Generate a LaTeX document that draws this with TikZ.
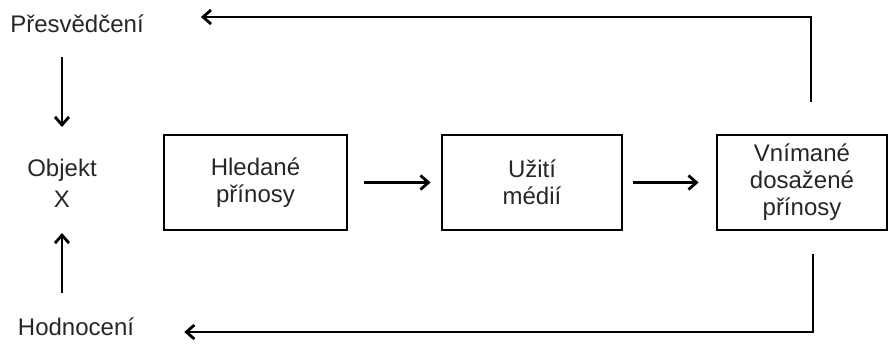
\documentclass[tikz,border=0pt]{standalone}
\usepackage{fontspec}
\setmainfont{Liberation Sans}
\usetikzlibrary{arrows.meta}
\begin{document}
\begin{tikzpicture}[x=1pt,y=-1pt,
  lbl/.style={inner sep=0pt, text=black!85, font=\fontsize{24}{29}\selectfont, align=center},
  boxn/.style={draw, line width=2.8pt, minimum height=95pt, inner sep=0pt, text=black!85, font=\fontsize{24}{27}\selectfont, align=center},
  arr/.style={line width=2.8pt, -{Straight Barb[length=8pt,width=14pt,line width=2.8pt]}}]
\useasboundingbox (0,0) rectangle (889,343);
\node[lbl] (pres) at (77,24) {Přesvědčení};
\node[lbl, font=\fontsize{24}{31}\selectfont] (obj) at (62,183) {Objekt\\X};
\node[lbl] (hod) at (76,327) {Hodnocení};
\node[boxn, minimum width=183pt] (b1) at (255.5,182.5) {Hledané\\přínosy};
\node[boxn, minimum width=180pt] (b2) at (532,182.5) {Užití\\médií};
\node[boxn, minimum width=170pt] (b3) at (802,182.5) {Vnímané\\dosažené\\přínosy};
\draw[arr, shorten <=33pt, shorten >=56pt] (pres.center -| obj.center) -- (obj.center);
\draw[arr, shorten <=34pt, shorten >=50pt] (hod.center -| obj.center) -- (obj.center);
\draw[arr, shorten <=16pt, shorten >=10pt] (b1.east) -- (b2.west);
\draw[arr, shorten <=10pt, shorten >=17pt] (b2.east) -- (b3.west);
\draw[arr, shorten <=32pt, shorten >=57pt] ([xshift=9pt]b3.north) |- ([yshift=7pt]pres.east);
\draw[arr, shorten <=23pt, shorten >=50pt] ([xshift=11pt]b3.south) |- ([yshift=-5pt]hod.east);
\end{tikzpicture}
\end{document}
